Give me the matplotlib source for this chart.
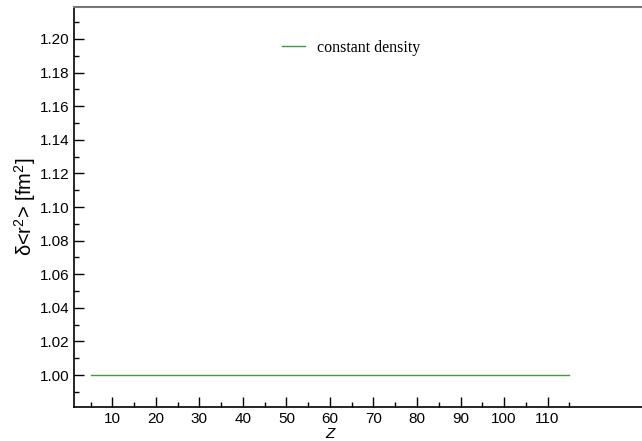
import matplotlib
matplotlib.use("Agg")
import matplotlib.pyplot as plt
from matplotlib.ticker import FixedLocator, MultipleLocator, FormatStrFormatter

Z = [5, 115]
dr2 = [1.0, 1.0]
label = "constant density"
xticks_major = [10, 20, 30, 40, 50, 60, 70, 80, 90, 100, 110]
xticks_minor = [5, 15, 25, 35, 45, 55, 65, 75, 85, 95, 105, 115]

plt.rcParams['font.family'] = ['Liberation Sans', 'DejaVu Sans']
plt.rcParams['mathtext.fontset'] = 'custom'
plt.rcParams['mathtext.rm'] = 'Liberation Sans'
plt.rcParams['mathtext.it'] = 'Liberation Sans:italic'
fig = plt.figure(figsize=(6.42, 4.41), dpi=100)
ax = fig.add_axes([74/642, 1-407/441, 1-74/642, 400/441])
ax.plot(Z, dr2, color='#3a9e3a', lw=1.0, label=label)
ax.set_xlim(1.2, 131.7)
ax.set_ylim(0.981, 1.219)
ax.xaxis.set_major_locator(FixedLocator(xticks_major))
ax.xaxis.set_minor_locator(FixedLocator(xticks_minor))
ax.yaxis.set_major_locator(MultipleLocator(0.02))
ax.yaxis.set_minor_locator(MultipleLocator(0.01))
ax.yaxis.set_major_formatter(FormatStrFormatter('%.2f'))
ax.tick_params(which='major', direction='in', length=7.5, width=1, labelsize=11, top=False, right=False)
ax.tick_params(which='minor', direction='in', length=3.8, width=1, top=False, right=False)
ax.spines['right'].set_visible(False)
ax.spines['top'].set_color('#777777')
ax.spines['top'].set_linewidth(1.5)
ax.spines['left'].set_linewidth(1.2)
ax.spines['bottom'].set_linewidth(1.2)
ax.set_xlabel('Z', fontstyle='italic', fontsize=11, va='center')
ax.xaxis.set_label_coords((330-74)/568, -27/400)
ax.set_ylabel(r'δ<r$^{2}$> [fm$^{2}$]', fontsize=14.5, va='center')
ax.yaxis.set_label_coords(-(74-25)/568, 0.5)
leg = ax.legend(loc='center left', bbox_to_anchor=((276-74)/568, (407-48)/400), frameon=False,
                prop={'family': 'Liberation Serif', 'size': 11.5},
                handlelength=1.4, handletextpad=0.75, borderaxespad=0)
fig.savefig('out.png', dpi=100)
